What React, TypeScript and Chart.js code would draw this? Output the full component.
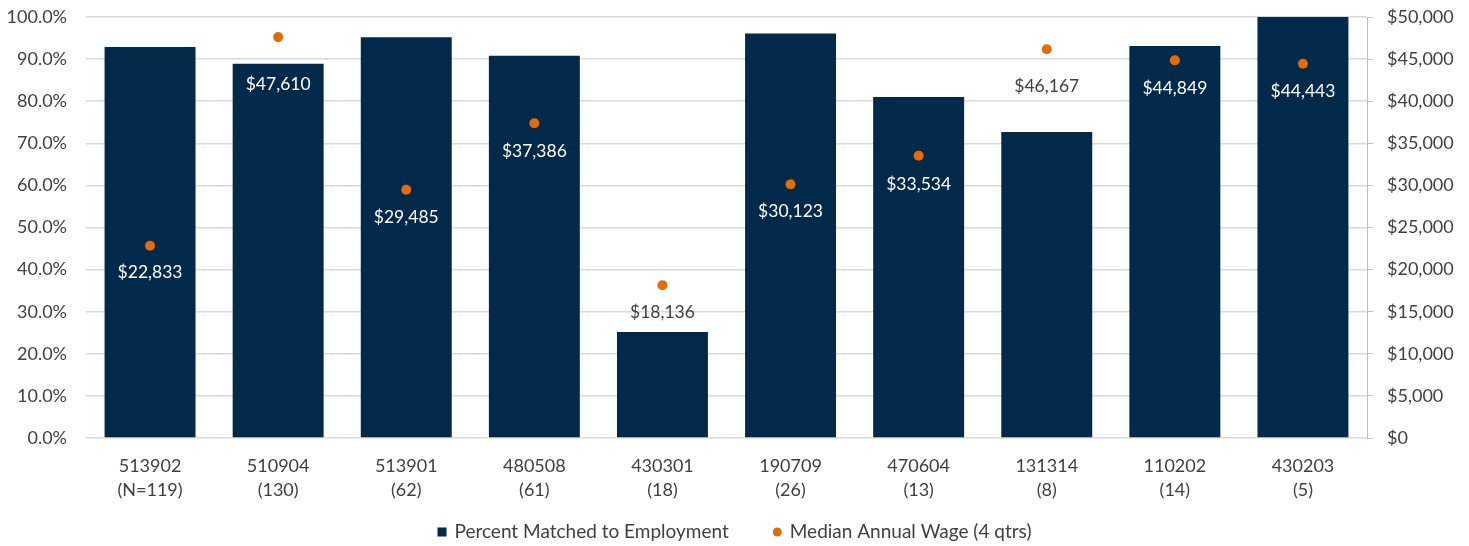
import React, { useEffect, useRef } from "react";
import { Chart, registerables } from "chart.js";

Chart.register(...registerables);

const categoryCodes = ["513902", "510904", "513901", "480508", "430301", "190709", "470604", "131314", "110202", "430203"];
const categoryCounts = ["(N=119)", "(130)", "(62)", "(61)", "(18)", "(26)", "(13)", "(8)", "(14)", "(5)"];
const percentMatched = [92.9, 88.9, 95.2, 90.8, 25.2, 96.1, 81.0, 72.7, 93.1, 100.0];
const medianWage = [22833, 47610, 29485, 37386, 18136, 30123, 33534, 46167, 44849, 44443];
const seriesNames = ["Percent Matched to Employment", "Median Annual Wage (4 qtrs)"];

const labelOffsets = [27, 47, 28, 28, 27, 27, 29, 37, 28, 28];

const NAVY = "#00294A";
const ORANGE = "#E36C09";
const TEXT = "#404040";
const FONT = "Lato, 'Open Sans', sans-serif";

const fmtMoney = (v: number) => "$" + Math.round(v).toLocaleString("en-US");

export default function App() {
  const ref = useRef<HTMLCanvasElement | null>(null);

  useEffect(() => {
    document.body.style.margin = "0";
    const canvas = ref.current;
    if (!canvas) return;

    const labelsPlugin = {
      id: "wageLabels",
      afterDatasetsDraw(chart: any) {
        const ctx = chart.ctx;
        const bars = chart.getDatasetMeta(0).data;
        const pts = chart.getDatasetMeta(1).data;
        ctx.save();
        ctx.font = `17.5px ${FONT}`;
        ctx.textAlign = "center";
        ctx.textBaseline = "middle";
        pts.forEach((p: any, i: number) => {
          const y = p.y + labelOffsets[i];
          const barTop = bars[i].y;
          ctx.fillStyle = y - 9 > barTop ? "#FFFFFF" : TEXT;
          ctx.fillText(fmtMoney(medianWage[i]), p.x, y);
        });
        ctx.restore();
      },
    };

    const legendPlugin = {
      id: "customLegend",
      afterDraw(chart: any) {
        const ctx = chart.ctx;
        ctx.save();
        ctx.font = `19px ${FONT}`;
        ctx.textBaseline = "middle";
        ctx.textAlign = "left";
        const box = 9;
        const gapBox = 8;
        const gapItems = 44;
        const w0 = ctx.measureText(seriesNames[0]).width;
        const w1 = ctx.measureText(seriesNames[1]).width;
        const total = box + gapBox + w0 + gapItems + box + gapBox + w1;
        let x = chart.width / 2 - total / 2;
        const y = 532;
        ctx.fillStyle = NAVY;
        ctx.fillRect(x, y - box / 2, box, box);
        x += box + gapBox;
        ctx.fillStyle = TEXT;
        ctx.fillText(seriesNames[0], x, y);
        x += w0 + gapItems;
        ctx.fillStyle = ORANGE;
        ctx.beginPath();
        ctx.arc(x + box / 2, y, box / 2, 0, Math.PI * 2);
        ctx.fill();
        x += box + gapBox;
        ctx.fillStyle = TEXT;
        ctx.fillText(seriesNames[1], x, y);
        ctx.restore();
      },
    };

    const chart = new Chart(canvas, {
      type: "bar",
      data: {
        labels: categoryCodes.map((c, i) => [c, categoryCounts[i]]),
        datasets: [
          {
            type: "bar",
            label: seriesNames[0],
            data: percentMatched,
            backgroundColor: NAVY,
            yAxisID: "y",
            barPercentage: 0.71,
            categoryPercentage: 1,
            order: 2,
          },
          {
            type: "line",
            label: seriesNames[1],
            data: medianWage,
            yAxisID: "y1",
            showLine: false,
            pointRadius: 5,
            pointBackgroundColor: ORANGE,
            pointBorderWidth: 0,
            borderColor: ORANGE,
            backgroundColor: ORANGE,
            order: 1,
          },
        ],
      } as any,
      options: {
        responsive: false,
        animation: false,
        layout: { padding: { top: 17, bottom: 44, left: 0, right: 0 } },
        plugins: {
          legend: { display: false },
          tooltip: { enabled: false },
        },
        scales: {
          x: {
            grid: { display: false, drawTicks: false },
            border: { display: false },
            ticks: {
              color: TEXT,
              font: { family: FONT, size: 18, lineHeight: 1.33 },
              padding: 16,
              maxRotation: 0,
            },
            afterFit: (s: any) => {
              s.height = 64;
            },
          },
          y: {
            position: "left",
            min: 0,
            max: 100,
            ticks: {
              stepSize: 10,
              color: TEXT,
              font: { family: FONT, size: 18 },
              padding: 19,
              callback: (v: any) => Number(v).toFixed(1) + "%",
            },
            grid: { color: "#D9D9D9", lineWidth: 1.5, drawTicks: false },
            border: { display: false },
            afterFit: (s: any) => {
              s.width = 86;
              s.paddingTop = 0;
              s.paddingBottom = 0;
            },
          },
          y1: {
            position: "right",
            min: 0,
            max: 50000,
            ticks: {
              stepSize: 5000,
              color: TEXT,
              font: { family: FONT, size: 18 },
              padding: 14,
              callback: (v: any) => fmtMoney(Number(v)),
            },
            grid: { drawOnChartArea: false, color: "#BFBFBF", tickLength: 6 },
            border: { display: true, color: "#BFBFBF" },
            afterFit: (s: any) => {
              s.width = 102;
              s.paddingTop = 0;
              s.paddingBottom = 0;
            },
          },
        },
      } as any,
      plugins: [labelsPlugin, legendPlugin],
    });

    return () => chart.destroy();
  }, []);

  return (
    <div style={{ width: 1469, height: 546 }}>
      <canvas ref={ref} width={1469} height={546} style={{ display: "block" }} />
    </div>
  );
}
